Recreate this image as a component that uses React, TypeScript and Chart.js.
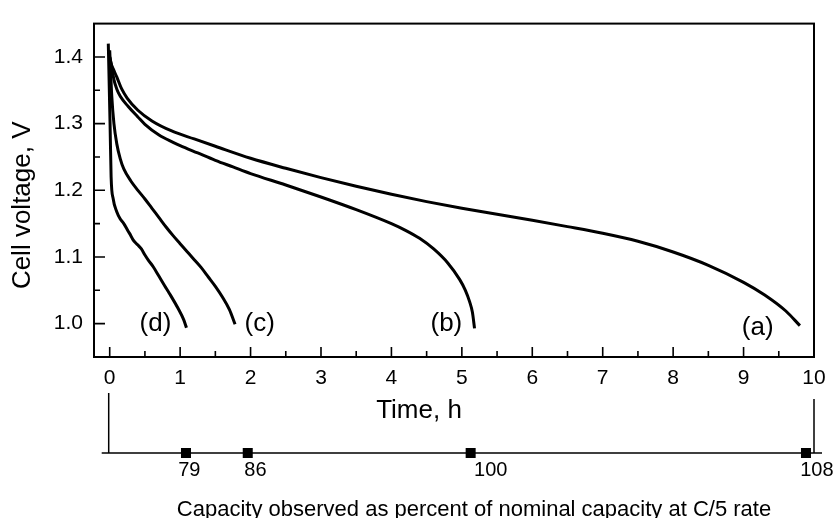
import { useEffect, useRef } from 'react';
import { Chart, registerables } from 'chart.js';

Chart.register(...registerables);

// Discharge curves: elapsed time (h) and cell voltage (V)
const timeA = [0, 0.02, 0.05, 0.1, 0.17, 0.25, 0.4, 0.6, 0.88, 1.2, 1.5, 2.0, 2.5, 3.0, 3.5, 4.0, 4.5, 5.0, 5.5, 6.0, 6.5, 7.0, 7.5, 8.0, 8.5, 9.0, 9.3, 9.6, 9.8];
const voltA = [1.4, 1.39, 1.382, 1.37, 1.352, 1.338, 1.32, 1.304, 1.289, 1.277, 1.266, 1.248, 1.233, 1.219, 1.206, 1.194, 1.183, 1.173, 1.164, 1.155, 1.1455, 1.1355, 1.1235, 1.1075, 1.0875, 1.062, 1.043, 1.019, 0.997];

const timeB = [0, 0.03, 0.06, 0.1, 0.15, 0.26, 0.4, 0.5, 0.7, 0.9, 1.0, 1.25, 1.5, 1.75, 2.0, 2.5, 3.0, 3.5, 4.0, 4.2, 4.4, 4.6, 4.8, 4.97, 5.05, 5.11, 5.15, 5.18];
const voltB = [1.4, 1.385, 1.366, 1.352, 1.341, 1.326, 1.31, 1.299, 1.283, 1.272, 1.267, 1.256, 1.245, 1.235, 1.225, 1.208, 1.19, 1.171, 1.15, 1.14, 1.128, 1.112, 1.091, 1.066, 1.05, 1.033, 1.017, 0.993];

const timeC = [0, 0.03, 0.06, 0.1, 0.15, 0.2, 0.3, 0.4, 0.5, 0.6, 0.7, 0.8, 0.9, 1.0, 1.1, 1.2, 1.3, 1.4, 1.5, 1.6, 1.7, 1.78];
const voltC = [1.41, 1.34, 1.3, 1.27, 1.247, 1.232, 1.214, 1.2, 1.187, 1.173, 1.159, 1.145, 1.132, 1.12, 1.108, 1.096, 1.084, 1.07, 1.056, 1.04, 1.021, 0.999];

const timeD = [-0.02, 0.005, 0.02, 0.05, 0.1, 0.15, 0.2, 0.26, 0.3, 0.33, 0.37, 0.4, 0.45, 0.5, 0.55, 0.62, 0.7, 0.78, 0.85, 0.97, 1.05, 1.09];
const voltD = [1.42, 1.3, 1.22, 1.187, 1.168, 1.157, 1.15, 1.139, 1.132, 1.126, 1.121, 1.118, 1.112, 1.103, 1.095, 1.085, 1.071, 1.057, 1.045, 1.023, 1.006, 0.994];

// Curve tags and where they sit (h, V)
const curveNames = ['(a)', '(b)', '(c)', '(d)'];
const curveTagTime = [9.2, 4.78, 2.13, 0.65];
const curveTagVolt = [0.994, 1.0, 1.0, 1.0];

// Axis ticks
const timeTicks = [0, 1, 2, 3, 4, 5, 6, 7, 8, 9, 10];
const voltTicks = [1.0, 1.1, 1.2, 1.3, 1.4];

// Capacity observed (% of nominal at C/5) against discharge time
const capacityPercent = [79, 86, 100, 108];
const capacityHours = [1.083, 1.96, 5.125, 9.886];
const capacityLabelHours = [1.13, 2.07, 5.41, 10.04];

const FONT = '"Liberation Sans", Arial, Helvetica, sans-serif';

const toPoints = (t: number[], v: number[]) => t.map((x, i) => ({ x, y: v[i] }));

const extrasPlugin = {
  id: 'frameAndCapacityAxis',
  afterDraw(chart: any) {
    const { ctx, chartArea: a, scales } = chart;
    const x = scales.x;
    const y = scales.y;
    ctx.save();
    ctx.strokeStyle = '#000';
    ctx.fillStyle = '#000';

    // plot frame
    ctx.lineWidth = 2;
    ctx.strokeRect(a.left, a.top, a.right - a.left, a.bottom - a.top);

    // inward tick marks
    ctx.lineWidth = 1.6;
    ctx.beginPath();
    timeTicks.forEach((v, i) => {
      const px = x.getPixelForValue(v);
      ctx.moveTo(px, a.bottom);
      ctx.lineTo(px, a.bottom - 10);
      if (i < timeTicks.length - 1) {
        const pm = x.getPixelForValue((v + timeTicks[i + 1]) / 2);
        ctx.moveTo(pm, a.bottom);
        ctx.lineTo(pm, a.bottom - 6);
      }
    });
    voltTicks.forEach((v, i) => {
      const py = y.getPixelForValue(v);
      ctx.moveTo(a.left, py);
      ctx.lineTo(a.left + 11, py);
      if (i < voltTicks.length - 1) {
        const pm = y.getPixelForValue((v + voltTicks[i + 1]) / 2);
        ctx.moveTo(a.left, pm);
        ctx.lineTo(a.left + 6, pm);
      }
    });
    ctx.stroke();

    // curve tags
    ctx.font = `26px ${FONT}`;
    ctx.textAlign = 'center';
    ctx.textBaseline = 'middle';
    curveNames.forEach((name, i) => {
      ctx.fillText(name, x.getPixelForValue(curveTagTime[i]), y.getPixelForValue(curveTagVolt[i]));
    });

    // axis titles
    const midX = (a.left + a.right) / 2;
    const midY = (a.top + a.bottom) / 2;
    ctx.font = `26px ${FONT}`;
    ctx.textBaseline = 'alphabetic';
    ctx.fillText('Time, h', midX - 35, a.bottom + 61);

    ctx.save();
    ctx.translate(23, midY + 15);
    ctx.rotate(-Math.PI / 2);
    ctx.font = `26px ${FONT}`;
    ctx.textBaseline = 'middle';
    ctx.fillText('Cell voltage, V', 0, 0);
    ctx.restore();

    // capacity axis under the time axis
    const x0 = x.getPixelForValue(timeTicks[0]);
    const x10 = x.getPixelForValue(timeTicks[timeTicks.length - 1]);
    const axisY = a.bottom + 96;
    ctx.lineWidth = 1.5;
    ctx.beginPath();
    ctx.moveTo(x0 - 1, a.bottom + 36);
    ctx.lineTo(x0 - 1, axisY);
    ctx.moveTo(x0 - 8, axisY);
    ctx.lineTo(x10 + 8, axisY);
    ctx.moveTo(x10, a.bottom + 42);
    ctx.lineTo(x10, axisY);
    ctx.stroke();

    const size = 10;
    capacityHours.forEach((h) => {
      const px = x.getPixelForValue(h);
      ctx.fillRect(px - size / 2, axisY - size / 2, size, size);
    });

    ctx.font = `20px ${FONT}`;
    ctx.textAlign = 'center';
    ctx.textBaseline = 'middle';
    capacityPercent.forEach((p, i) => {
      ctx.fillText(String(p), x.getPixelForValue(capacityLabelHours[i]), axisY + 17);
    });

    ctx.font = `22px ${FONT}`;
    ctx.textBaseline = 'alphabetic';
    ctx.fillText('Capacity observed as percent of nominal capacity at C/5 rate', midX + 20, a.bottom + 159);

    ctx.restore();
  },
};

export default function App() {
  const canvasRef = useRef<HTMLCanvasElement | null>(null);

  useEffect(() => {
    const canvas = canvasRef.current;
    if (!canvas) return;
    const line = (t: number[], v: number[]) => ({
      data: toPoints(t, v),
      borderColor: '#000',
      borderWidth: 3,
      pointRadius: 0,
      fill: false,
      cubicInterpolationMode: 'monotone' as const,
      borderJoinStyle: 'round' as const,
    });

    const chart = new Chart(canvas, {
      type: 'line',
      data: {
        datasets: [line(timeA, voltA), line(timeB, voltB), line(timeC, voltC), line(timeD, voltD)],
      },
      options: {
        responsive: false,
        animation: false,
        events: [],
        layout: { padding: { left: 0, top: 12, right: 21, bottom: 0 } },
        plugins: { legend: { display: false }, tooltip: { enabled: false }, title: { display: false } },
        scales: {
          x: {
            type: 'linear',
            min: -0.223,
            max: 10,
            grid: { display: false, drawTicks: false },
            border: { display: false },
            afterBuildTicks: (scale: any) => {
              scale.ticks = timeTicks.map((value) => ({ value }));
            },
            afterFit: (scale: any) => {
              scale.height = 161;
            },
            ticks: {
              padding: 9,
              color: '#000',
              maxRotation: 0,
              autoSkip: false,
              font: { family: FONT, size: 21 },
              callback: (value: any) => String(value),
            },
          },
          y: {
            type: 'linear',
            min: 0.95,
            max: 1.45,
            grid: { display: false, drawTicks: false },
            border: { display: false },
            afterBuildTicks: (scale: any) => {
              scale.ticks = voltTicks.map((value) => ({ value }));
            },
            afterFit: (scale: any) => {
              scale.width = 94;
            },
            ticks: {
              padding: 11,
              color: '#000',
              autoSkip: false,
              font: { family: FONT, size: 21 },
              callback: (value: any) => Number(value).toFixed(1),
            },
          },
        },
      },
      plugins: [extrasPlugin],
    });

    return () => chart.destroy();
  }, []);

  return (
    <div style={{ position: 'fixed', left: 0, top: 0, width: 835, height: 518, background: '#fff' }}>
      <canvas ref={canvasRef} width={835} height={518} style={{ width: 835, height: 518, display: 'block' }} />
    </div>
  );
}
